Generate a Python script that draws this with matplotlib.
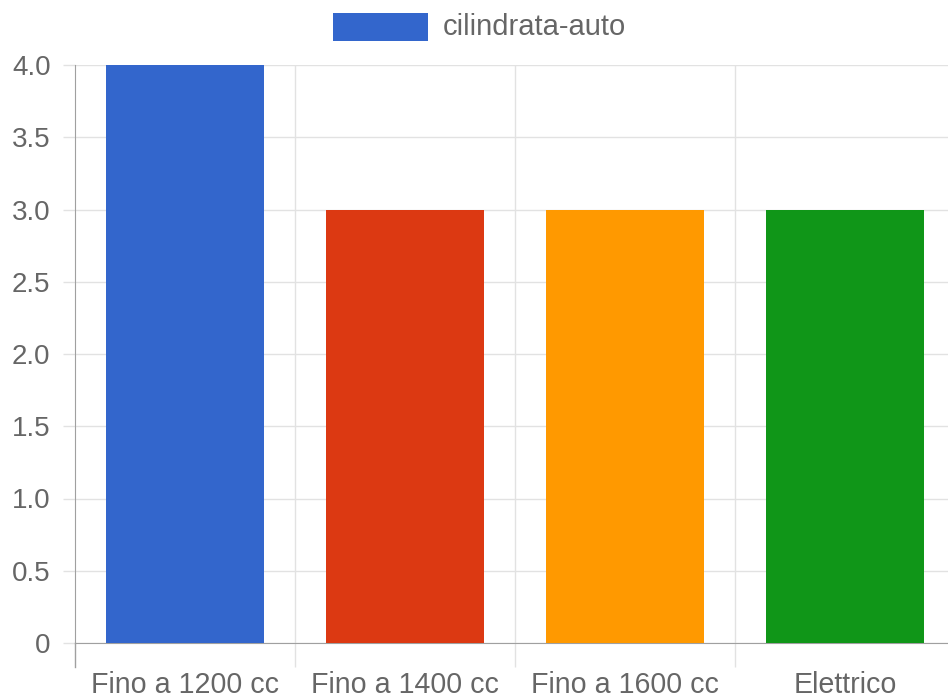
import matplotlib
matplotlib.use("Agg")
import matplotlib.pyplot as plt
from matplotlib.patches import Rectangle
from matplotlib.ticker import FixedLocator, FixedFormatter

# dati
categorie = ["Fino a 1200 cc", "Fino a 1400 cc", "Fino a 1600 cc", "Elettrico"]
valori = [4, 3, 3, 3]
colori = ["#3366CC", "#DC3912", "#FF9900", "#109618"]
serie = "cilindrata-auto"
y_ticks = [0, 0.5, 1.0, 1.5, 2.0, 2.5, 3.0, 3.5, 4.0]
y_labels = ["0", "0.5", "1.0", "1.5", "2.0", "2.5", "3.0", "3.5", "4.0"]

plt.rcParams['font.family'] = ['Liberation Sans', 'DejaVu Sans']

W, H = 948, 698
fig = plt.figure(figsize=(W / 100, H / 100), dpi=100)
# l'area del grafico esce un po' oltre il bordo destro
ax = fig.add_axes([75 / W, (H - 643) / H, 880 / W, (643 - 65) / H])

x = list(range(len(categorie)))
ax.bar(x, valori, width=0.72, color=colori, zorder=3)

ax.set_xlim(-0.5, len(categorie) - 0.5)
ax.set_ylim(0, 4)

grid_c = "#e2e2e2"
axis_c = "#a0a0a0"
text_c = "#666666"

ax.yaxis.set_major_locator(FixedLocator(y_ticks))
ax.yaxis.set_major_formatter(FixedFormatter(y_labels))
ax.grid(axis="y", color=grid_c, linewidth=1, zorder=0)
ax.tick_params(axis="y", length=8.6, width=1, color=grid_c, pad=9,
               labelsize=20, labelcolor=text_c)

ax.set_xticks(x)
ax.set_xticklabels(categorie)
ax.tick_params(axis="x", which="major", length=0, pad=20.5,
               labelsize=20.6, labelcolor=text_c)
ax.xaxis.set_minor_locator(FixedLocator([0.5, 1.5, 2.5]))
ax.tick_params(axis="x", which="minor", length=17.3, width=1, color=grid_c)
ax.grid(axis="x", which="minor", color=grid_c, linewidth=1, zorder=0)

for s in ["top", "right"]:
    ax.spines[s].set_visible(False)
ax.spines["left"].set_color(axis_c)
ax.spines["bottom"].set_color(axis_c)
# prolungamento asse sinistro sotto lo zero
ax.plot([-0.5, -0.5], [0, -24 / (643 - 65) * 4], color=axis_c, lw=1,
        clip_on=False, zorder=4)

# legenda
fig.patches.append(Rectangle((333 / W, 1 - 41 / H), 95 / W, 28 / H,
                             transform=fig.transFigure, facecolor=colori[0],
                             edgecolor="none"))
fig.text(443 / W, 1 - 27 / H, serie, fontsize=21, color=text_c,
         va="center", ha="left")

fig.savefig("out.png", dpi=100)
